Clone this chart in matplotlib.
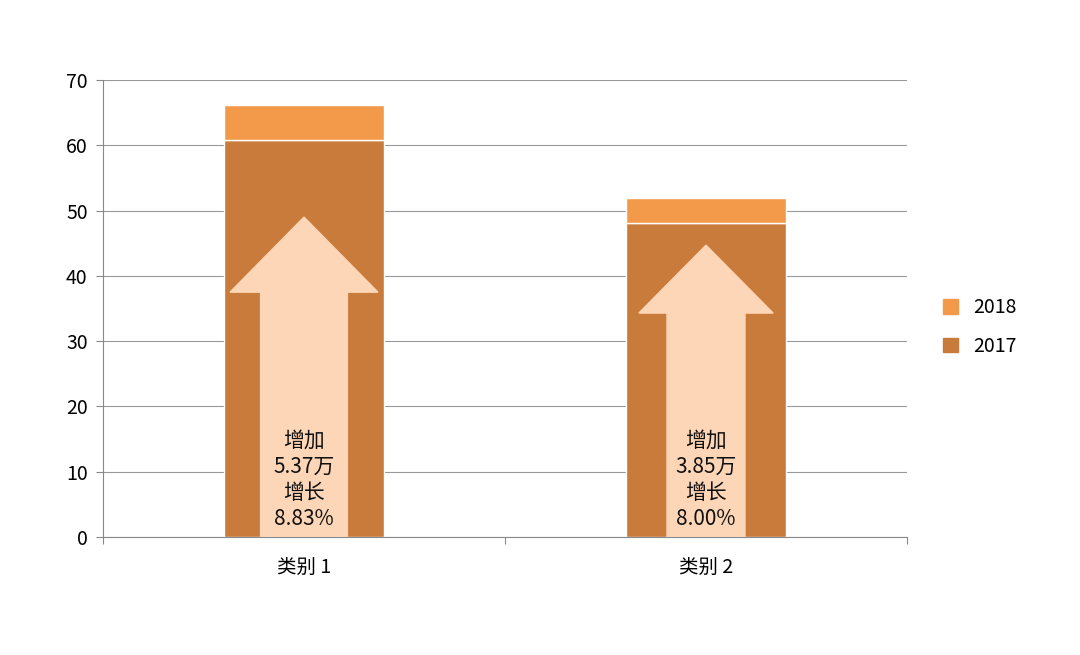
import matplotlib.pyplot as plt
from matplotlib.patches import Polygon, Patch

plt.rcParams['font.family'] = ['Noto Sans CJK SC', 'DejaVu Sans']

categories = ['类别 1', '类别 2']
v2017 = [60.8, 48.1]
v2018_extra = [5.37, 3.85]
growth = ['8.83%', '8.00%']
# arrow geometry: (tip, head base, head half width, shaft half width)
arrows = [(49.0, 37.5, 0.184, 0.108), (44.7, 34.3, 0.167, 0.097)]

c2017 = '#C97B3B'
c2018 = '#F39A4A'
carrow = '#FDD6B7'

fig = plt.figure(figsize=(10.8, 6.55), dpi=100)
ax = fig.add_axes([103/1080, 118/655, 804/1080, 457/655])
x = range(len(categories))
ax.bar(x, v2017, width=0.4, color=c2017, edgecolor='white', linewidth=1, zorder=2)
ax.bar(x, v2018_extra, bottom=v2017, width=0.4, color=c2018, edgecolor='white', linewidth=1, zorder=2)

for i, (tip, base, hw, sw) in enumerate(arrows):
    pts = [(i - sw, 0), (i - sw, base), (i - hw, base), (i, tip),
           (i + hw, base), (i + sw, base), (i + sw, 0)]
    ax.add_patch(Polygon(pts, closed=True, color=carrow, zorder=3))
    ax.text(i, 1, f'增加\n{v2018_extra[i]:.2f}万\n增长\n{growth[i]}', ha='center', va='bottom',
            fontsize=15, linespacing=1.25, color='#111111', zorder=4)

ax.set_xlim(-0.5, 1.5)
ax.set_ylim(0, 70)
ax.set_yticks(range(0, 71, 10))
ax.set_xticks([-0.5, 0.5, 1.5], minor=False)
ax.set_xticklabels([])
ax.set_xticks(list(x), minor=True)
ax.set_xticklabels(categories, minor=True, fontsize=14)
ax.tick_params(axis='x', which='minor', length=0, pad=14)
ax.tick_params(axis='x', which='major', length=5, color='#888888')
ax.tick_params(axis='y', labelsize=14, length=5, color='#888888', pad=6)
ax.grid(axis='y', color='#999999', linewidth=0.8, zorder=0)
for s in ['top', 'right']:
    ax.spines[s].set_visible(False)
for s in ['left', 'bottom']:
    ax.spines[s].set_color('#888888')

handles = [Patch(color=c2018, label='2018'), Patch(color=c2017, label='2017')]
fig.legend(handles=handles, loc='center left', bbox_to_anchor=(925/1080, 1 - 327/655),
           frameon=False, fontsize=14, handlelength=0.8, handleheight=0.8, labelspacing=0.9)

fig.savefig('out.png', dpi=100)
